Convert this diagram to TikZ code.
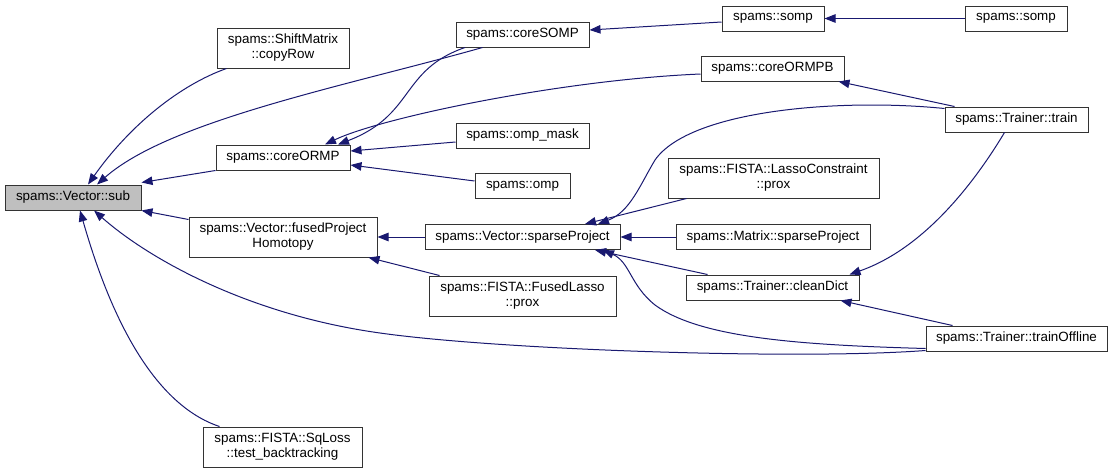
\documentclass[tikz,border=0pt]{standalone}
\usepackage{fontspec}
\setmainfont{Liberation Sans}
\usetikzlibrary{arrows.meta}
\definecolor{edgeblue}{HTML}{191970}
\definecolor{rootgray}{HTML}{BFBFBF}

\begin{document}
\begin{tikzpicture}[x=1pt, y=-1pt,
  fn/.style={draw=black!80, line width=1pt, fill=white, inner sep=0pt, minimum height=25pt, font=\fontsize{13.4}{15}\selectfont, align=center},
  fn2/.style={fn, minimum height=40pt},
  calls/.style={draw=edgeblue, line width=1pt, -{Triangle[length=11pt,width=8.5pt]}}]
\useasboundingbox (0,0) rectangle (1112,474);

% Root
\node[fn, fill=rootgray, minimum width=136pt] (sub) at (73,197.5) {spams::Vector::sub};

% Column 2
\node[fn2, minimum width=132pt] (copyRow) at (283,48) {spams::ShiftMatrix\\::copyRow};
\node[fn, minimum width=134pt] (coreORMP) at (283,157.5) {spams::coreORMP};
\node[fn2, minimum width=188pt] (fusedHom) at (283,237) {spams::Vector::fusedProject\\Homotopy};
\node[fn2, minimum width=159pt] (sqLoss) at (282.5,447) {spams::FISTA::SqLoss\\::test\_backtracking};

% Column 3
\node[fn, minimum width=133pt] (coreSOMP) at (522.5,34.5) {spams::coreSOMP};
\node[fn, minimum width=133pt] (ompMask) at (522.5,135.5) {spams::omp\_mask};
\node[fn, minimum width=95pt] (omp) at (522.5,186) {spams::omp};
\node[fn, minimum width=195pt] (vecSparse) at (522.5,237) {spams::Vector::sparseProject};
\node[fn2, minimum width=187pt] (fusedLasso) at (522.5,296) {spams::FISTA::FusedLasso\\::prox};

% Column 4
\node[fn, minimum width=102pt] (sompA) at (773,18.5) {spams::somp};
\node[fn, minimum width=143pt] (coreORMPB) at (772.5,68.5) {spams::coreORMPB};
\node[fn2, minimum width=211pt] (lassoProx) at (773.5,178) {spams::FISTA::LassoConstraint\\::prox};
\node[fn, minimum width=194pt] (matSparse) at (773,237) {spams::Matrix::sparseProject};
\node[fn, minimum width=173pt] (cleanDict) at (772.5,287.5) {spams::Trainer::cleanDict};

% Column 5
\node[fn, minimum width=102pt] (sompB) at (1016,18.5) {spams::somp};
\node[fn, minimum width=143pt] (train) at (1016.5,119.5) {spams::Trainer::train};
\node[fn, minimum width=181pt] (trainOffline) at (1016.5,338.5) {spams::Trainer::trainOffline};

% Callers of sub
\draw[calls] ([xshift=10pt]copyRow.south west) .. controls (180,85) and (130,125) .. ([xshift=15pt]sub.north);
\draw[calls] ([xshift=-40pt]coreSOMP.south) .. controls (350,85) and (170,120) .. ([xshift=24pt]sub.north);
\draw[calls] (coreORMP.south west) -- ([yshift=2pt]sub.north east);
\draw[calls] ([yshift=-3pt]fusedHom.north west) -- (sub.south east);
\draw[calls] ([xshift=17pt]sqLoss.north west) .. controls (140,400) and (100,280) .. ([xshift=7pt]sub.south);
\draw[calls] ([yshift=-12pt]trainOffline.west) .. controls (800,360) and (500,350) .. (380,333)
  .. controls (250,315) and (150,260) .. ([xshift=21pt]sub.south);

% Callers of coreORMP
\draw[calls] ([xshift=-57.5pt]coreSOMP.south) .. controls (400,70) and (415,115) .. ([xshift=55pt]coreORMP.north);
\draw[calls] ([yshift=-5.5pt]coreORMPB.west) .. controls (560,80) and (380,118) .. ([xshift=42pt]coreORMP.north);
\draw[calls] ([yshift=-6.5pt]ompMask.west) -- ([yshift=6.5pt]coreORMP.east);
\draw[calls] ([yshift=5pt]omp.west) -- ([yshift=-7.5pt]coreORMP.east);

% Callers of coreSOMP, somp, coreORMPB
\draw[calls] ([yshift=-3.5pt]sompA.west) -- ([yshift=4.5pt]coreSOMP.east);
\draw[calls] (sompB.west) -- (sompA.east);
\draw[calls] ([xshift=10pt]train.north west) -- ([xshift=-6pt]coreORMPB.south east);

% Callers of sparseProject
\draw[calls] ([yshift=-2pt]train.north west) .. controls (840,98) and (690,110) .. (655,160)
  .. controls (640,185) and (630,212) .. ([xshift=75.5pt]vecSparse.north);
\draw[calls] ([xshift=19pt]lassoProx.south west) -- ([xshift=62.5pt]vecSparse.north);
\draw[calls] (matSparse.west) -- (vecSparse.east);
\draw[calls] ([xshift=22pt]cleanDict.north west) -- ([xshift=72.5pt]vecSparse.south);
\draw[calls] ([yshift=-10pt]trainOffline.west) .. controls (800,345) and (700,338) .. (655,305)
  .. controls (630,285) and (630,262) .. ([xshift=80.5pt]vecSparse.south);

% Callers of fusedProjectHomotopy
\draw[calls] (vecSparse.west) -- (fusedHom.east);
\draw[calls] ([xshift=11pt]fusedLasso.north west) -- ([xshift=-9pt]fusedHom.south east);

% Callers of cleanDict
\draw[calls] ([xshift=-12pt]train.south) .. controls (970,190) and (920,250) .. ([xshift=-10pt]cleanDict.north east);
\draw[calls] ([xshift=27pt]trainOffline.north west) -- ([xshift=-19pt]cleanDict.south east);
\end{tikzpicture}
\end{document}
